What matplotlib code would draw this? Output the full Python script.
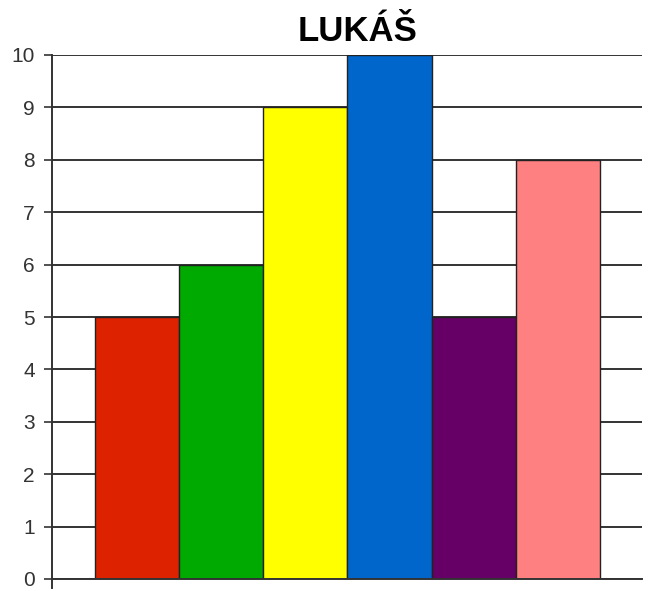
import matplotlib
matplotlib.use("Agg")
import matplotlib.pyplot as plt
from matplotlib.lines import Line2D

title = "LUKÁŠ"
categories = ["1", "2", "3", "4", "5", "6"]
values = [5, 6, 9, 10, 5, 8]
colors = ["#DD2200", "#00AA00", "#FFFF00", "#0066CC", "#660066", "#FF8080"]
yticks = list(range(0, 11))

plt.rcParams['font.family'] = ['Liberation Sans', 'DejaVu Sans']

W, H = 651, 591
fig = plt.figure(figsize=(W / 100, H / 100), dpi=100)
ax = fig.add_axes([52 / W, 1 - 579 / H, (642 - 52) / W, (579 - 55) / H])

x = list(range(len(values)))
ax.set_axisbelow(True)
ax.yaxis.grid(True, color="#333333", linewidth=1.4)
ax.bar(x, values, width=1.0, color=colors, edgecolor="#222222", linewidth=1.0, zorder=3)

ax.set_xlim(-1.01, 6.0)
ax.set_ylim(0, 10)
ax.set_yticks(yticks)
ax.set_yticklabels([str(t) for t in yticks], fontsize=15, color="#333333")
ax.tick_params(axis='y', length=6, width=1.2, color="#333333", pad=6.5)
ax.set_xticks([])
for s in ax.spines.values():
    s.set_visible(False)
ax.add_line(Line2D([0, 0], [-9 / 524, 1], transform=ax.transAxes, color="#333333",
                   linewidth=1.4, clip_on=False, zorder=4))
ax.add_line(Line2D([0, 1], [0, 0], transform=ax.transAxes, color="#333333",
                   linewidth=1.4, clip_on=False, zorder=4))

fig.text(358 / W, 1 - 41 / H, title, ha="center", va="baseline",
         fontsize=25, fontweight="bold", color="black")

fig.savefig("out.png", dpi=100)
